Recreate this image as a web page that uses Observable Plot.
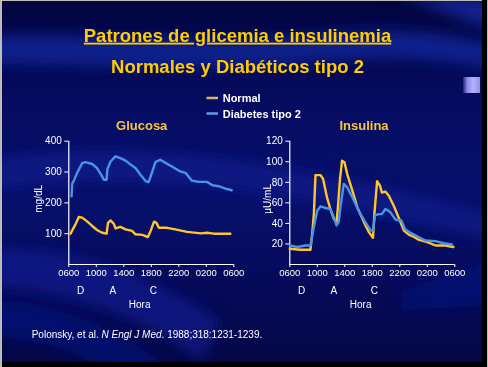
<!DOCTYPE html>
<html>
<head>
<meta charset="utf-8">
<script src="https://cdn.jsdelivr.net/npm/d3@7"></script>
<script src="https://cdn.jsdelivr.net/npm/@observablehq/plot@0.6"></script>
<style>
  html, body { margin: 0; padding: 0; background: #000; }
  #page { position: relative; width: 488px; height: 367px; overflow: hidden; background: #bdbdb5; font-family: "Liberation Sans", Arial, sans-serif; }
  #bg { position: absolute; left: 2px; top: 1px; width: 480px; height: 361px;
        background: linear-gradient(180deg, #03053f 0%, #060c62 30%, #07106c 55%, #050a58 80%, #040846 100%); overflow: hidden; }
  #blackR { position: absolute; left: 482px; top: 0; width: 5px; height: 367px; background: #000; }
  #blackB { position: absolute; left: 2px; top: 362px; width: 485px; height: 5px; background: #000; }
  #deco { position: absolute; left: 463px; top: 77px; width: 17px; height: 16px;
          background: linear-gradient(90deg, #202070 0%, #8a8ae8 25%, #b4b4ff 60%, #9090e0 100%); }
  .chart { position: absolute; top: 120px; }
  #overlay { position: absolute; left: 0; top: 0; }
</style>
</head>
<body>
<div id="page">
  <div id="bg">
    <svg width="480" height="361" style="position:absolute;left:0;top:0">
      <defs>
        <filter id="blur" x="-20%" y="-20%" width="140%" height="140%"><feGaussianBlur stdDeviation="7"/></filter>
      </defs>
      <g filter="url(#blur)">
        <path d="M-20,35 C80,30 200,45 300,35 C380,25 440,30 500,45 L500,70 C430,55 380,55 300,62 C200,70 80,65 -20,62 Z" fill="#1428a0" opacity="0.75"/>
        <path d="M-20,160 C80,140 200,150 300,170 C380,185 440,200 500,215 L500,240 C420,225 360,210 300,198 C200,180 80,175 -20,190 Z" fill="#0c1c92" opacity="0.6"/>
        <path d="M-20,250 C60,240 140,270 220,320 L200,361 C130,310 60,290 -20,285 Z" fill="#0f21a0" opacity="0.55"/>
        <path d="M-20,300 C60,300 120,330 170,370 L120,380 C80,350 30,335 -20,335 Z" fill="#0a1a90" opacity="0.5"/>
        <path d="M380,-10 C420,0 460,20 500,30 L500,0 Z" fill="#1a2cb0" opacity="0.7"/>
        <path d="M400,290 C430,280 460,270 500,255 L500,300 C460,310 430,305 400,310 Z" fill="#0c1a8a" opacity="0.5"/>
      </g>
    </svg>
  </div>
  <div id="blackR"></div>
  <div id="blackB"></div>
  <div id="deco"></div>
  <div id="glucose" class="chart" style="left:0px"></div>
  <div id="insulin" class="chart" style="left:240px"></div>
  <svg id="overlay" width="488" height="367"></svg>
</div>
<script>
// ---- Data (hours after 06:00) ----
const hourTicks = [0, 4, 8, 12, 16, 20, 24];
const hourLabels = ["0600", "1000", "1400", "1800", "2200", "0200", "0600"];
const mealHours = [1.7, 6.4, 12.3];
const mealLabels = ["D", "A", "C"];
const xLabelHour = 10.3;

const glucoseTicks = [100, 200, 300, 400];
const insulinTicks = [20, 40, 60, 80, 100, 120];

const glucoseNormalHours = [0.25, 0.97, 1.45, 1.95, 2.7, 3.4, 4.1, 4.85, 5.5, 5.7, 6.07, 6.55, 6.8, 7.5, 8.25, 9.2, 9.7, 10.7, 11.5, 11.9, 12.4, 12.75, 13.1, 14.3, 15.5, 17.2, 19.2, 20.1, 21.1, 23.5];
const glucoseNormal = [100, 130, 154, 152, 139, 125, 112, 103, 100, 135, 143, 132, 117, 122, 114, 109, 98, 96, 89, 109, 139, 135, 119, 119, 114, 106, 101, 103, 100, 100];

const glucoseDiabetesHours = [0.4, 0.5, 0.73, 1.2, 1.95, 2.4, 3.4, 4.1, 4.85, 5.1, 5.5, 5.6, 6.07, 6.8, 7.5, 8.25, 9.0, 9.7, 10.4, 11.2, 11.6, 12.0, 12.6, 13.3, 14.1, 15.0, 16.2, 17.0, 17.9, 18.9, 20.1, 20.9, 21.8, 22.8, 23.7];
const glucoseDiabetes = [221, 262, 272, 297, 329, 332, 326, 313, 286, 275, 275, 308, 334, 351, 345, 337, 324, 313, 292, 270, 267, 292, 332, 340, 329, 318, 302, 297, 272, 268, 268, 257, 254, 246, 241];

const insulinNormalHours = [0, 1.56, 3.0, 3.26, 3.5, 3.74, 4.47, 4.85, 5.4, 5.9, 6.4, 6.8, 7.0, 7.3, 7.6, 7.95, 8.35, 9.1, 9.8, 10.8, 11.5, 12.1, 12.3, 12.7, 13.1, 13.4, 13.9, 14.4, 15.1, 15.9, 16.6, 17.3, 18.0, 18.8, 20.0, 21.2, 22.6, 23.8];
const insulinNormal = [15.3, 14.3, 14.3, 30, 49, 87, 87, 83, 65.5, 54, 44.5, 41, 56, 83, 101, 99.6, 88, 72, 56, 41, 31.5, 26, 49, 81, 77, 70, 71, 67, 57.5, 44.5, 33, 29, 27, 24, 21.7, 18.5, 18.5, 17];

const insulinDiabetesHours = [0, 1.07, 2.3, 3.0, 3.4, 4.0, 4.47, 5.2, 5.9, 6.4, 6.8, 7.1, 7.4, 7.85, 8.35, 9.1, 10.0, 11.0, 11.8, 12.1, 12.4, 12.95, 13.4, 13.9, 14.6, 15.4, 16.2, 16.8, 17.8, 18.8, 19.7, 21.2, 22.4, 23.6];
const insulinDiabetes = [18.5, 17, 18.5, 18.5, 33, 52.5, 56.5, 55, 54, 46, 38, 41, 57.5, 78.5, 75, 65.5, 52.5, 41, 33, 33, 47.7, 49, 49, 54, 51, 43.5, 43, 34, 30, 26.5, 23.4, 22.7, 20.7, 19.5];

const seriesNames = ["Normal", "Diabetes tipo 2"];
const colorNormal = "#ffc52a";
const colorDiabetes = "#4a94e6";
const legendNormal = "#d8b26c";
const legendDiabetes = "#5b9de8";

const zip = (hs, vs) => hs.map((h, i) => ({ h, v: vs[i] }));

function chart({ width, marginLeft, marginRight, yDomain, yTicks, yLabel, yLabelDx, normal, diabetes }) {
  const fontFamily = "'Liberation Sans', Arial, sans-serif";
  return Plot.plot({
    width, height: 200,
    marginLeft, marginRight, marginTop: 20.7, marginBottom: 56,
    style: { background: "transparent", color: "white", fontFamily, fontSize: "10px", overflow: "visible" },
    x: { domain: [0, 24] },
    y: { domain: yDomain },
    marks: [
      Plot.axisX({ ticks: hourTicks, tickFormat: d => hourLabels[hourTicks.indexOf(d)], tickSize: 3, tickPadding: 2, label: null, fontSize: 9.5 }),
      Plot.axisY({ ticks: yTicks, tickSize: 4, tickPadding: 3, label: null, fontSize: 10 }),
      Plot.ruleY([yDomain[0]], { stroke: "white", strokeWidth: 1.2 }),
      Plot.ruleX([0], { stroke: "white", strokeWidth: 1.2 }),
      Plot.line(normal, { x: "h", y: "v", stroke: colorNormal, strokeWidth: 2.4 }),
      Plot.line(diabetes, { x: "h", y: "v", stroke: colorDiabetes, strokeWidth: 2.4 }),
      Plot.text(mealLabels, { x: (d, i) => mealHours[i], frameAnchor: "bottom", text: d => d, dy: 25.8, fill: "white", fontSize: 10, textAnchor: "middle", lineAnchor: "middle" }),
      Plot.text(["Hora"], { x: () => xLabelHour, frameAnchor: "bottom", dy: 39.8, fill: "white", fontSize: 10, textAnchor: "middle", lineAnchor: "middle" }),
      Plot.text([yLabel], { frameAnchor: "left", rotate: -90, dx: yLabelDx, dy: -4, fill: "white", fontSize: 10, textAnchor: "middle", lineAnchor: "middle" })
    ]
  });
}

document.getElementById("glucose").append(chart({
  width: 250, marginLeft: 68.3, marginRight: 16.7,
  yDomain: [0, 400], yTicks: glucoseTicks, yLabel: "mg/dL", yLabelDx: -30.2,
  normal: zip(glucoseNormalHours, glucoseNormal),
  diabetes: zip(glucoseDiabetesHours, glucoseDiabetes)
}));
document.getElementById("insulin").append(chart({
  width: 248, marginLeft: 49.3, marginRight: 33.7,
  yDomain: [0, 120], yTicks: insulinTicks, yLabel: "µU/mL", yLabelDx: -22.5,
  normal: zip(insulinNormalHours, insulinNormal),
  diabetes: zip(insulinDiabetesHours, insulinDiabetes)
}));

// ---- Titles, legend, footer ----
const ov = d3.select("#overlay");
const ff = "'Liberation Sans', Arial, sans-serif";
ov.append("text").attr("x", 237.5).attr("y", 41.7).attr("text-anchor", "middle")
  .attr("font-family", ff).attr("font-size", 18.5).attr("font-weight", "bold")
  .attr("fill", "#ffcc00").style("text-decoration", "underline")
  .text("Patrones de glicemia e insulinemia");
ov.append("text").attr("x", 237.5).attr("y", 73.3).attr("text-anchor", "middle")
  .attr("font-family", ff).attr("font-size", 18.5).attr("font-weight", "bold")
  .attr("fill", "#ffcc00").text("Normales y Diabéticos tipo 2");

const panelTitles = ["Glucosa", "Insulina"];
const panelTitleX = [141.7, 364];
panelTitles.forEach((t, i) => {
  ov.append("text").attr("x", panelTitleX[i]).attr("y", 129.5).attr("text-anchor", "middle")
    .attr("font-family", ff).attr("font-size", 13).attr("font-weight", "bold")
    .attr("fill", "#f7c63a").text(t);
});

const legendColors = [legendNormal, legendDiabetes];
const legendY = [98, 113.5];
seriesNames.forEach((name, i) => {
  ov.append("line").attr("x1", 206.5).attr("x2", 218).attr("y1", legendY[i]).attr("y2", legendY[i])
    .attr("stroke", legendColors[i]).attr("stroke-width", 2.5);
  ov.append("text").attr("x", 222.7).attr("y", legendY[i] + 4).attr("font-family", ff)
    .attr("font-size", 11).attr("font-weight", "bold").attr("fill", "white").text(name);
});

const foot = ov.append("text").attr("x", 31.7).attr("y", 338).attr("font-family", ff)
  .attr("font-size", 10).attr("fill", "white");
foot.append("tspan").text("Polonsky, et al. ");
foot.append("tspan").attr("font-style", "italic").text("N Engl J Med");
foot.append("tspan").text(". 1988;318:1231-1239.");
</script>
</body>
</html>
